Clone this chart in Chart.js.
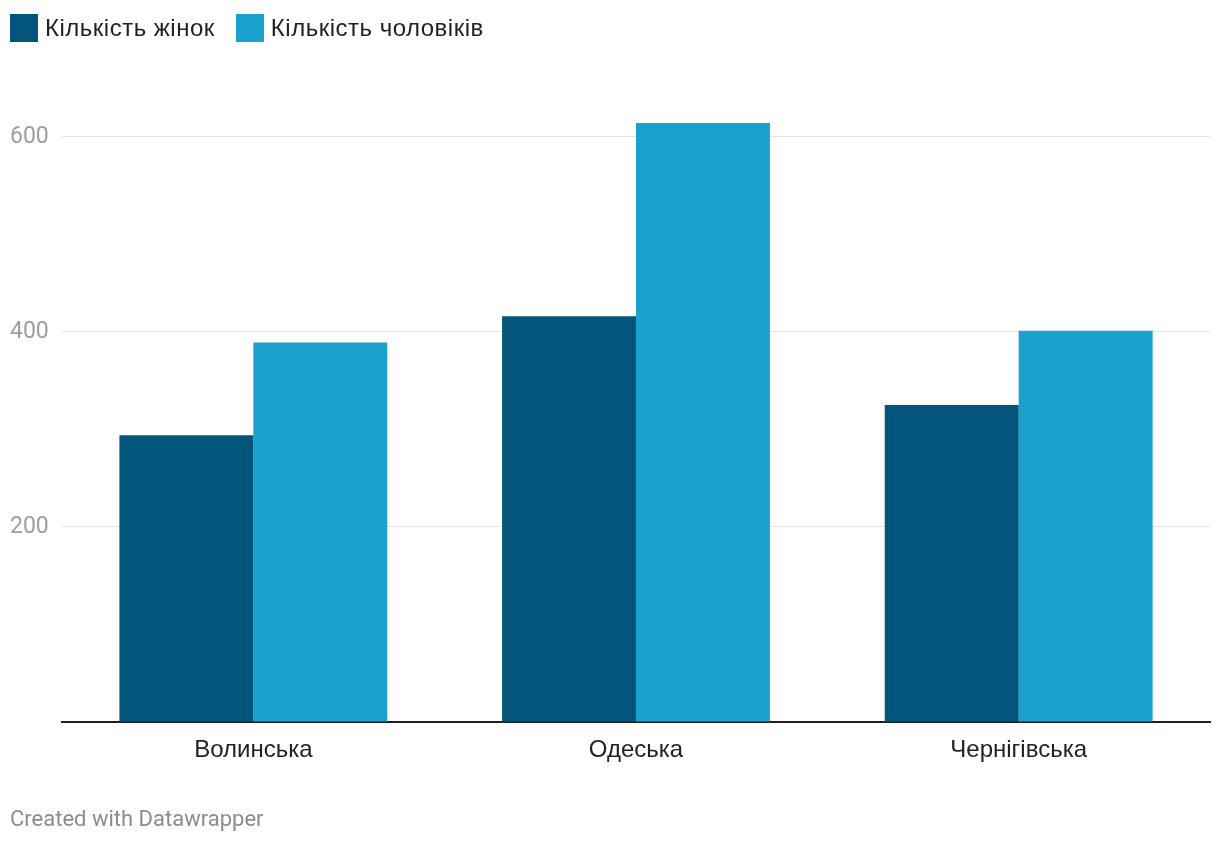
<!DOCTYPE html>
<html>
<head>
<meta charset="utf-8">
<script src="https://cdn.jsdelivr.net/npm/chart.js@4"></script>
<style>
  html, body { margin: 0; padding: 0; background: #fff; }
  body { width: 1220px; height: 844px; position: relative; overflow: hidden; font-family: Roboto, sans-serif; }
  #chartBox { position: absolute; left: 0; top: 0; width: 1220px; height: 844px; }
  .legend { position: absolute; top: 14px; left: 10px; display: flex; align-items: center; font-family: "Liberation Sans", Arial, sans-serif; font-size: 24px; letter-spacing: 0.5px; color: #222; }
  .legend .item { display: flex; align-items: center; margin-right: 21px; }
  .legend .sw { width: 28px; height: 28px; margin-right: 7px; }
  .footer { position: absolute; left: 10px; top: 806px; font-size: 22px; color: #8c8c8c; }
</style>
</head>
<body>
<div id="chartBox"><canvas id="chart"></canvas></div>
<div class="legend" id="legend"></div>
<div class="footer">Created with Datawrapper</div>
<script>
const regions = ['Волинська', 'Одеська', 'Чернігівська'];
const seriesNames = ['Кількість жінок', 'Кількість чоловіків'];
const women = [294, 416, 325];
const men = [389, 614, 401];
const yTicks = [0, 200, 400, 600];
const colors = ['#02557b', '#1aa1cd'];

// легенда в HTML, як у Datawrapper
document.getElementById('legend').innerHTML = seriesNames.map((n, i) => `
  <div class="item"><div class="sw" style="background:${colors[i]}"></div><span>${n}</span></div>
`).join('');

new Chart(document.getElementById('chart'), {
  type: 'bar',
  data: {
    labels: regions,
    datasets: [
      { label: seriesNames[0], data: women, backgroundColor: colors[0] },
      { label: seriesNames[1], data: men, backgroundColor: colors[1] }
    ]
  },
  options: {
    responsive: true,
    maintainAspectRatio: false,
    animation: false,
    devicePixelRatio: 1,
    layout: { padding: { top: 88, left: 10, right: 10, bottom: 0 } },
    categoryPercentage: 0.7,
    barPercentage: 1.0,
    plugins: { legend: { display: false }, tooltip: { enabled: false } },
    scales: {
      x: {
        grid: { display: false },
        border: { display: true, color: '#1e1e1e', width: 2 },
        ticks: { color: '#222', font: { family: 'Liberation Sans', size: 24 }, padding: 6 },
        afterFit: s => { s.height = 122; }
      },
      y: {
        min: 0,
        max: 650,
        grid: {
          color: ctx => ctx.tick && ctx.tick.value === 0 ? 'rgba(0,0,0,0)' : '#e3e3e3',
          lineWidth: 1,
          drawTicks: false
        },
        border: { display: false },
        ticks: {
          stepSize: 200,
          color: '#9e9e9e',
          font: { family: 'Roboto', size: 23 },
          crossAlign: 'far',
          padding: 0,
          callback: v => v === 0 ? '' : v
        },
        afterBuildTicks: s => { s.ticks = yTicks.map(v => ({ value: v })); },
        afterFit: s => { s.width = 52; }
      }
    }
  }
});
</script>
</body>
</html>
